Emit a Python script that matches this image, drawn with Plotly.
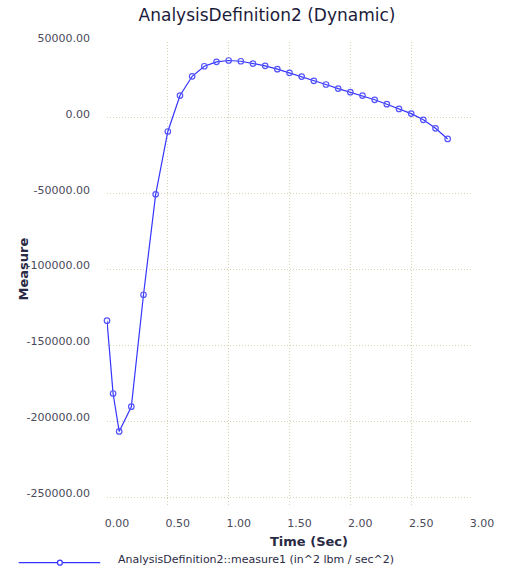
import plotly.graph_objects as go

# ---- data ----
time_sec = [0.0, 0.05, 0.1, 0.2, 0.3, 0.4, 0.5, 0.6, 0.7, 0.8, 0.9, 1.0, 1.1, 1.2,
            1.3, 1.4, 1.5, 1.6, 1.7, 1.8, 1.9, 2.0, 2.1, 2.2, 2.3, 2.4, 2.5, 2.6,
            2.7, 2.8]
measure1 = [-133700, -181700, -206700, -190400, -116600, -50400, -9000, 14700,
            27400, 34000, 36900, 37800, 37300, 35800, 34300, 32100, 29700, 27200,
            24400, 22000, 19300, 16900, 14700, 11900, 9000, 5900, 2800, -1300,
            -6900, -13900]
x_tick_vals = [0.0, 0.5, 1.0, 1.5, 2.0, 2.5, 3.0]
x_tick_text = ["0.00", "0.50", "1.00", "1.50", "2.00", "2.50", "3.00"]
y_tick_vals = [50000, 0, -50000, -100000, -150000, -200000, -250000]
y_tick_text = ["50000.00", "0.00", "-50000.00", "-100000.00", "-150000.00",
               "-200000.00", "-250000.00"]
series_name = "AnalysisDefinition2::measure1 (in^2 lbm / sec^2)"
title_text = "AnalysisDefinition2 (Dynamic)"

W, H = 506, 569
L, R, T, B = 107, 23, 42, 62
pw, ph = W - L - R, H - T - B

def px(x):
    return (x - L) / pw

def py(y):
    return (H - B - y) / ph

FONT = "DejaVu Sans"
LINE = "#3535ff"
GRID = "#d9d5b2"

fig = go.Figure()
fig.add_trace(go.Scatter(
    x=time_sec, y=measure1, mode="lines+markers", name=series_name,
    line=dict(color=LINE, width=1.2),
    marker=dict(symbol="circle-open", size=5.5, color="#5555ff", line=dict(width=1.2)),
    showlegend=False, cliponaxis=False,
))

fig.update_layout(
    width=W, height=H,
    margin=dict(l=L, r=R, t=T, b=B),
    paper_bgcolor="white", plot_bgcolor="white",
    font=dict(family=FONT, size=11, color="#4a4a5a"),
    title=dict(text=title_text, x=267 / W, xanchor="center", y=1 - 15 / H,
               yanchor="middle", font=dict(family=FONT, size=17, color="#1c1c3c")),
)
fig.update_xaxes(
    range=[0, 3.0], tickmode="array", tickvals=x_tick_vals, ticktext=x_tick_text,
    showgrid=True, gridcolor=GRID, griddash="1px,2px", gridwidth=1,
    zeroline=False, showline=False, ticks="",
    ticklabelshift=10, ticklabelstandoff=8,
)
fig.update_yaxes(
    range=[-256500, 50000], tickmode="array", tickvals=y_tick_vals, ticktext=y_tick_text,
    showgrid=True, gridcolor=GRID, griddash="1px,2px", gridwidth=1,
    zeroline=False, showline=False, ticks="",
    ticklabelshift=-4, ticklabelstandoff=16,
)

annotations = [
    dict(text="<b>Measure</b>", textangle=-90, x=px(20), y=py(269), xref="paper",
         yref="paper", showarrow=False, xanchor="center", yanchor="middle",
         font=dict(family=FONT, size=13, color="#2a2a44")),
    dict(text="<b>Time (Sec)</b>", x=px(315), y=py(541), xref="paper", yref="paper",
         showarrow=False, xanchor="center", yanchor="middle",
         font=dict(family=FONT, size=13, color="#2a2a44")),
    dict(text=series_name, x=px(116), y=py(559), xref="paper", yref="paper",
         showarrow=False, xanchor="left", yanchor="middle",
         font=dict(family=FONT, size=11, color="#2a2a44")),
]
fig.update_layout(annotations=annotations)

shapes = [
    dict(type="line", xref="paper", yref="paper", x0=px(16), x1=px(100),
         y0=py(562.7), y1=py(562.7), line=dict(color=LINE, width=1.2)),
    dict(type="circle", xref="paper", yref="paper", x0=px(56), x1=px(61),
         y0=py(560.2), y1=py(565.2), line=dict(color=LINE, width=1.2),
         fillcolor="white"),
]
fig.update_layout(shapes=shapes)

fig.write_html("out.html", config={"displayModeBar": False},
               post_script="document.body.style.margin='0px';")
